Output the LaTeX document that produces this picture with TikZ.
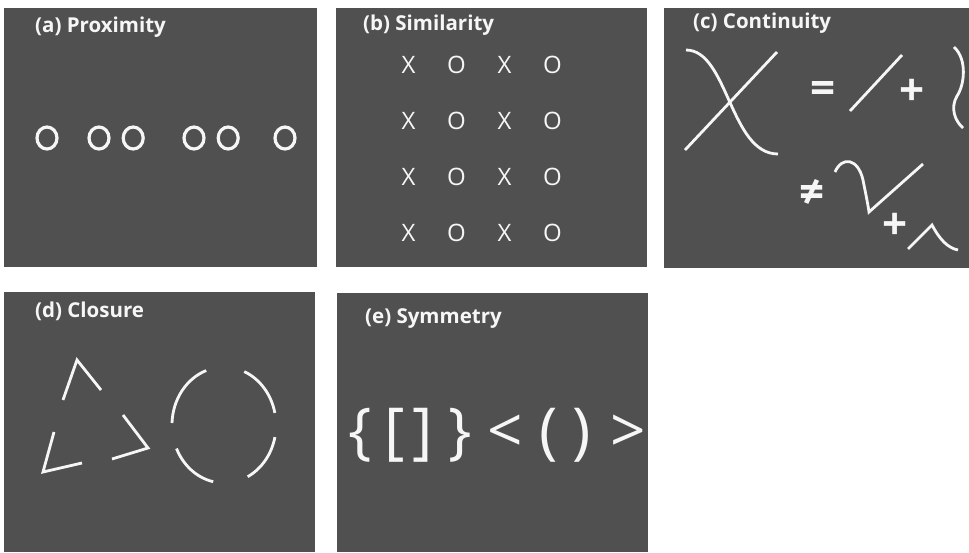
\documentclass[tikz,border=0pt]{standalone}
\usepackage{fontspec}
\setmainfont{Open Sans}
\usetikzlibrary{matrix,positioning,shapes.geometric}
\definecolor{panelgray}{RGB}{80,80,80}
\definecolor{chalk}{RGB}{246,246,246}

\begin{document}
\begin{tikzpicture}[x=1pt,y=-1pt,
  panel/.style={fill=panelgray,inner sep=0,minimum height=259pt},
  ptitle/.style={anchor=base west,inner sep=0,text=chalk,font=\bfseries\fontsize{20.5}{24}\selectfont},
  ring/.style={ellipse,draw=chalk,line width=3.2pt,minimum width=20pt,minimum height=22pt,inner sep=0},
  chalkline/.style={draw=chalk,line width=2.8pt},
  sym/.style={text=chalk,inner sep=0,font=\bfseries\fontsize{44}{44}\selectfont},
  bigsym/.style={text=chalk,inner sep=0,text height=47pt,text depth=15pt,font=\fontsize{62}{62}\selectfont},
  xomat/.style={matrix of nodes,column sep=28pt,row sep=36pt,
  nodes={text=chalk,inner sep=0,minimum size=20pt,font=\fontsize{24}{24}\selectfont}}]

  \useasboundingbox (0,0) rectangle (969,552);

  % panels
  \node[panel,minimum width=313pt] (pa) at (160.5,137.5) {};
  \node[panel,minimum width=311pt] (pb) at (491.5,137.5) {};
  \node[panel,minimum width=305pt,minimum height=260pt] (pc) at (816.5,138) {};
  \node[panel,minimum width=311pt,minimum height=260pt] (pd) at (159.5,422) {};
  \node[panel,minimum width=311pt] (pe) at (492.5,422.5) {};

  \node[ptitle] (ta) at (35,32) {(a) Proximity};
  \node[ptitle] (tb) at (363,30) {(b) Similarity};
  \node[ptitle] (tc) at (693,28) {(c) Continuity};
  \node[ptitle] (td) at (35,317) {(d) Closure};
  \node[ptitle] (te) at (365,323) {(e) Symmetry};

  % (a) rings in groups
  \node[ring] (r1) at (47,138) {};
  \node[ring] (r2) at (99,138) {};
  \node[ring,right=11pt of r2] (r3) {};
  \node[ring] (r4) at (194,138) {};
  \node[ring,right=11pt of r4] (r5) {};
  \node[ring] (r6) at (285,138) {};

  % (b) rows of X and O
  \matrix[xomat] (xo) at (480.5,148.5) {
    X & O & X & O \\
    X & O & X & O \\
    X & O & X & O \\
    X & O & X & O \\};

  % (c) crossing and its parts
  \draw[chalkline] (686,50) .. controls (728,50) and (730,154) .. (778,154);
  \draw[chalkline] (685,150) -- (777,52);
  \node[sym] (eq) at (823,92) {=};
  \draw[chalkline] (850,111) -- (902,55);
  \node[sym] (pl1) at (912,92) {+};
  \draw[chalkline] (954,47) .. controls (968,60) and (964,86) .. (957,96)
    .. controls (950,108) and (955,121) .. (963,128);
  \node[sym] (ne) at (812,193) {≠};
  \draw[chalkline] (835,172) .. controls (842,156) and (858,158) .. (863,180)
    .. controls (866,195) and (868,205) .. (869,212) -- (923,164);
  \node[sym] (pl2) at (895,226) {+};
  \draw[chalkline] (908,249) -- (932,225) .. controls (940,240) and (948,248) .. (958,250);

  % (d) broken triangle and circle
  \draw[chalkline] (63,400) -- (77,360) -- (101,390);
  \draw[chalkline] (54,432) -- (43,472) -- (82,463);
  \draw[chalkline] (123,415) -- (148,448) -- (112,459);
  \draw[chalkline] (172,423) arc[start angle=182,end angle=250,x radius=52,y radius=58];
  \draw[chalkline] (244.3,371.6) arc[start angle=293,end angle=348,x radius=52,y radius=58];
  \draw[chalkline] (213.2,481.7) arc[start angle=102,end angle=156,x radius=52,y radius=58];
  \draw[chalkline] (274.9,437.1) arc[start angle=12,end angle=63,x radius=52,y radius=58];

  % (e) paired brackets
  \node[bigsym] (lbrace) at (360,436) {\{};
  \node[bigsym] (lbrack) at (395,436) {[};
  \node[bigsym] (rbrack) at (423,436) {]};
  \node[bigsym] (rbrace) at (460,436) {\}};
  \node[bigsym] (lt) at (505,436) {<};
  \node[bigsym] (lpar) at (549,436) {(};
  \node[bigsym] (rpar) at (582,436) {)};
  \node[bigsym] (gt) at (628,436) {>};

\end{tikzpicture}
\end{document}
